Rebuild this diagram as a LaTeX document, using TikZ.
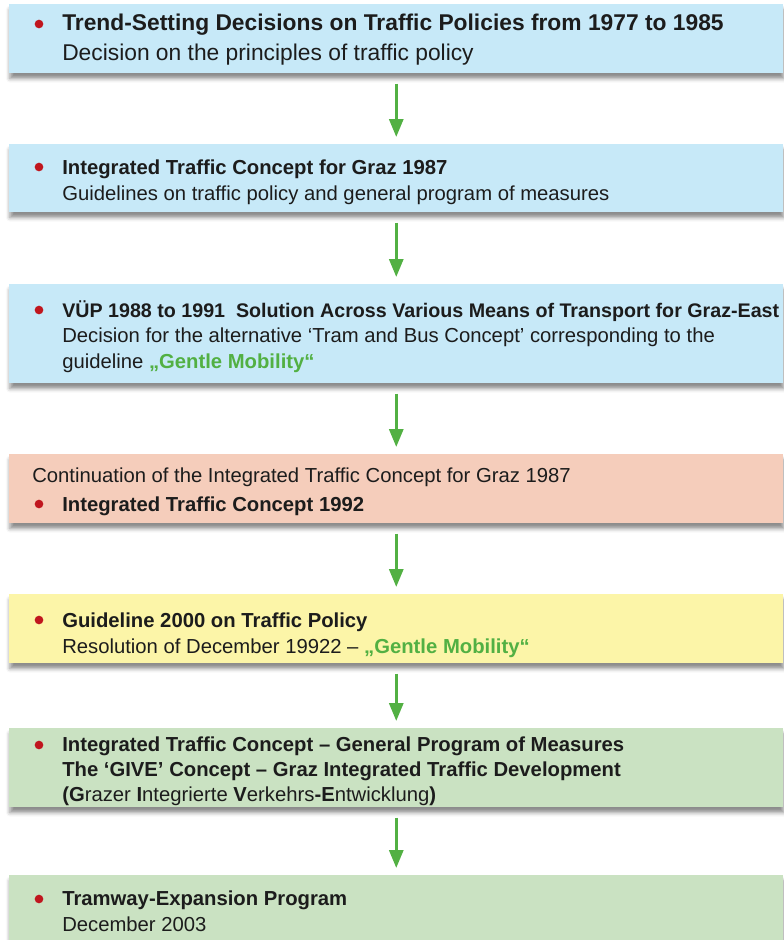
\documentclass[tikz,border=0pt]{standalone}
\usepackage{fontspec}
\setmainfont{Liberation Sans}
\usetikzlibrary{shadows.blur,arrows.meta}

\definecolor{boxblue}{HTML}{C7E9F8}
\definecolor{boxsalmon}{HTML}{F5CDBB}
\definecolor{boxyellow}{HTML}{FCF5A8}
\definecolor{boxgreen}{HTML}{CAE2C2}
\definecolor{dotred}{HTML}{C0161E}
\definecolor{flowgreen}{HTML}{52B043}
\definecolor{textdark}{HTML}{1C1C1C}

\newcommand{\gm}{\textcolor{flowgreen}{\bfseries „Gentle Mobility“}}

\tikzset{
  panel/.style={rectangle, anchor=north west, inner sep=0pt, draw=none,
    minimum width=580.5pt,
    blur shadow={shadow xshift=0.5pt, shadow yshift=-4pt,
      shadow blur radius=3pt, shadow opacity=45}},
  line/.style={anchor=base west, inner sep=0pt, text=textdark, font=\fontsize{15.2pt}{18pt}\selectfont},
  headline/.style={line, font=\fontsize{15.2pt}{18pt}\selectfont\bfseries},
  bigline/.style={line, font=\fontsize{17.1pt}{20pt}\selectfont},
  bighead/.style={line, font=\fontsize{17.1pt}{20pt}\selectfont\bfseries},
  dot/.style={circle, fill=dotred, inner sep=0pt, minimum size=6.5pt},
  flow/.style={draw=flowgreen, line width=2.25pt,
    -{Triangle[length=13.5pt,width=10.5pt]},
    shorten <=7.5pt, shorten >=5.25pt}
}

\begin{document}
\begin{tikzpicture}[x=0.75pt, y=-0.75pt]
\useasboundingbox (0,0) rectangle (784,940);

% panels, top to bottom
\node[panel, fill=boxblue,   minimum height=51.75pt] (b1) at (9,4) {};
\node[panel, fill=boxblue,   minimum height=51pt]    (b2) at (9,144) {};
\node[panel, fill=boxblue,   minimum height=74.25pt] (b3) at (9,284) {};
\node[panel, fill=boxsalmon, minimum height=51.75pt] (b4) at (9,454) {};
\node[panel, fill=boxyellow, minimum height=51.75pt] (b5) at (9,594) {};
\node[panel, fill=boxgreen,  minimum height=59.25pt] (b6) at (9,728) {};
\node[panel, fill=boxgreen,  minimum height=49.5pt]  (b7) at (9,875) {};

% connectors
\draw[flow] (b1.south) -- (b2.north);
\draw[flow] (b2.south) -- (b3.north);
\draw[flow] (b3.south) -- (b4.north);
\draw[flow] (b4.south) -- (b5.north);
\draw[flow] (b5.south) -- (b6.north);
\draw[flow] (b6.south) -- (b7.north);

% panel 1
\node[dot] (d1) at (39,24) {};
\node[bighead] (t1a) at (62,30) {Trend-Setting Decisions on Traffic Policies from 1977 to 1985};
\node[bigline] (t1b) at (62,60) {Decision on the principles of traffic policy};

% panel 2
\node[dot] (d2) at (39,167) {};
\node[headline] (t2a) at (62,174) {Integrated Traffic Concept for Graz 1987};
\node[line] (t2b) at (62,200) {Guidelines on traffic policy and general program of measures};

% panel 3
\node[dot] (d3) at (39,310) {};
\node[headline, font=\fontsize{14.75pt}{18pt}\selectfont\bfseries] (t3a) at (62,317) {VÜP 1988 to 1991\ \ Solution Across Various Means of Transport for Graz-East};
\node[line] (t3b) at (62,342) {Decision for the alternative ‘Tram and Bus Concept’ corresponding to the};
\node[line] (t3c) at (62,368) {guideline \gm};

% panel 4
\node[line] (t4a) at (32,482) {Continuation of the Integrated Traffic Concept for Graz 1987};
\node[dot] (d4) at (39,504) {};
\node[headline] (t4b) at (62,511) {Integrated Traffic Concept 1992};

% panel 5
\node[dot] (d5) at (39,620) {};
\node[headline] (t5a) at (62,627) {Guideline 2000 on Traffic Policy};
\node[line] (t5b) at (62,653) {Resolution of December 19922 – \gm};

% panel 6
\node[dot] (d6) at (39,745) {};
\node[headline] (t6a) at (62,751) {Integrated Traffic Concept – General Program of Measures};
\node[headline] (t6b) at (62,776) {The ‘GIVE’ Concept – Graz Integrated Traffic Development};
\node[line] (t6c) at (62,801) {\textbf{(G}razer \textbf{I}ntegrierte \textbf{V}erkehrs\textbf{-E}ntwicklung\textbf{)}};

% panel 7
\node[dot] (d7) at (39,899) {};
\node[headline] (t7a) at (62,905) {Tramway-Expansion Program};
\node[line] (t7b) at (62,931) {December 2003};
\end{tikzpicture}
\end{document}
